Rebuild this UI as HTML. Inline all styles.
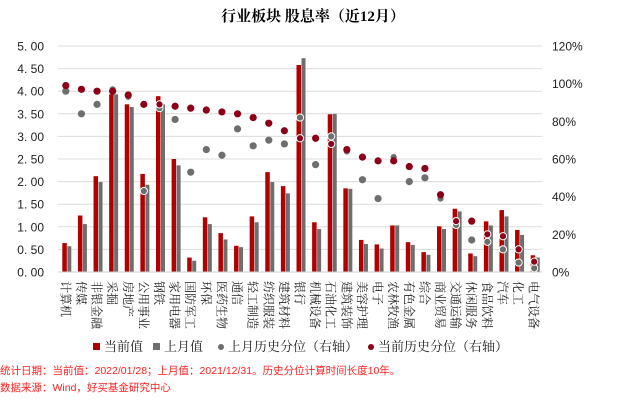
<!DOCTYPE html>
<html><head><meta charset="utf-8"><style>
html,body{margin:0;padding:0;background:#fff;}
svg{display:block;}
</style></head><body>
<svg id="c" width="625" height="402" xmlns="http://www.w3.org/2000/svg">
<text x="313" y="21" text-anchor="middle" font-family="'Liberation Serif','Noto Serif CJK SC',serif" font-size="15" font-weight="bold" fill="#000">行业板块 股息率（近12月）</text>
<g id="g"></g>
<g font-family="'Liberation Serif','Noto Serif CJK SC',serif" font-size="13" fill="#222">
<rect x="93" y="343" width="7" height="7" fill="#b00000"/><text x="104" y="351">当前值</text>
<rect x="153" y="343" width="7" height="7" fill="#6e6e6e"/><text x="164" y="351">上月值</text>
<circle cx="221" cy="347" r="3" fill="#6e6e6e"/><text x="228" y="351">上月历史分位（右轴）</text>
<circle cx="371" cy="347" r="3" fill="#8b0016"/><text x="378" y="351">当前历史分位（右轴）</text>
</g>
<g font-family="'Liberation Sans','Noto Sans CJK SC',sans-serif" font-size="10.5" fill="#ff2020">
<text x="0" y="374">统计日期：当前值：2022/01/28；上月值：2021/12/31。历史分位计算时间长度10年。</text>
<text x="0" y="391">数据来源：Wind，好买基金研究中心</text>
</g>
</svg>
<script>
(function(){
var L=58,R=542,T=46,B=272;
var names=["计算机","传媒","非银金融","采掘","房地产","公用事业","钢铁","家用电器","国防军工","环保","医药生物","通信","轻工制造","纺织服装","建筑材料","银行","机械设备","石油化工","建筑装饰","美容护理","电子","农林牧渔","有色金属","综合","商业贸易","交通运输","休闲服务","食品饮料","汽车","化工","电气设备"];
var cur=[0.64,1.25,2.12,3.93,3.71,2.17,3.89,2.50,0.32,1.21,0.86,0.58,1.23,2.21,1.90,4.58,1.10,3.49,1.85,0.71,0.61,1.03,0.66,0.44,1.01,1.40,0.41,1.12,1.37,0.93,0.37];
var prev=[0.57,1.06,1.99,3.93,3.65,1.93,3.71,2.36,0.25,1.06,0.72,0.55,1.10,1.99,1.74,4.73,0.95,3.50,1.84,0.62,0.52,1.03,0.60,0.38,0.95,1.34,0.35,1.03,1.23,0.82,0.32];
var pc=[99,97,96,96,94,89,89,88,87,86,85,84,82,79,75,71,71,68,65,61,59,59,56,55,41,27,27,20,19,12,5.5];
var pp=[96,84,89,97,93,43,87,81,53,65,62,76,67,70,68,82,57,72,64,49,39,61,48,50,39,25,17,16,12,5,2];
var hollowP={5:1,6:1,15:1,17:1,18:1,25:1,27:1,28:1,29:1,30:1,21:1,24:1,3:1,4:1};
var hollowC={15:1,17:1,25:1,27:1,28:1,29:1,30:1,6:1};
var s="";
function yv(v){return B-v/5*(B-T);}
function yp(p){return B-p/120*(B-T);}
for(var i=0;i<=10;i++){var y=B-i*(B-T)/10;s+='<line x1="'+L+'" x2="'+R+'" y1="'+y+'" y2="'+y+'" stroke="#dcdcdc" stroke-width="1"/>';
s+='<text x="44" y="'+(y+4.5)+'" text-anchor="end" font-family="Liberation Sans,sans-serif" font-size="12" fill="#222">'+(i*0.5).toFixed(2).replace('.','. ')+'</text>';}
for(var i=0;i<=6;i++){var y=B-i*(B-T)/6;s+='<text x="552" y="'+(y+4.5)+'" font-family="Liberation Sans,sans-serif" font-size="12" fill="#222">'+(i*20)+'%</text>';}
var w=(R-L)/31;
for(var i=0;i<31;i++){var cx=L+w*(i+0.5);
s+='<rect x="'+(cx-3.5)+'" y="'+yv(cur[i])+'" width="4.5" height="'+(B-yv(cur[i]))+'" fill="#b00000"/>';
s+='<rect x="'+(cx+1.5)+'" y="'+yv(prev[i])+'" width="4" height="'+(B-yv(prev[i]))+'" fill="#6e6e6e"/>';
}
for(var i=0;i<31;i++){var cx=L+w*(i+0.5);
s+='<circle cx="'+cx+'" cy="'+yp(pp[i])+'" r="3.6" fill="#6e6e6e"'+(hollowP[i]?' stroke="#fff" stroke-width="1"':'')+'/>';
}
for(var i=0;i<31;i++){var cx=L+w*(i+0.5);
s+='<circle cx="'+cx+'" cy="'+yp(pc[i])+'" r="3.6" fill="#8b0016"'+(hollowC[i]?' stroke="#fff" stroke-width="1"':'')+'/>';
}
s+='<line x1="'+L+'" x2="'+R+'" y1="'+B+'" y2="'+B+'" stroke="#d0d0d0"/>';
for(var i=0;i<31;i++){var cx=L+w*(i+0.5);
s+='<text transform="translate('+cx+',281) rotate(90)" x="0" y="0" dominant-baseline="central" font-family="Noto Serif CJK SC,serif" font-size="12" fill="#222">'+names[i]+'</text>';
}
document.getElementById('g').innerHTML=s;
})();
</script>
</body></html>
